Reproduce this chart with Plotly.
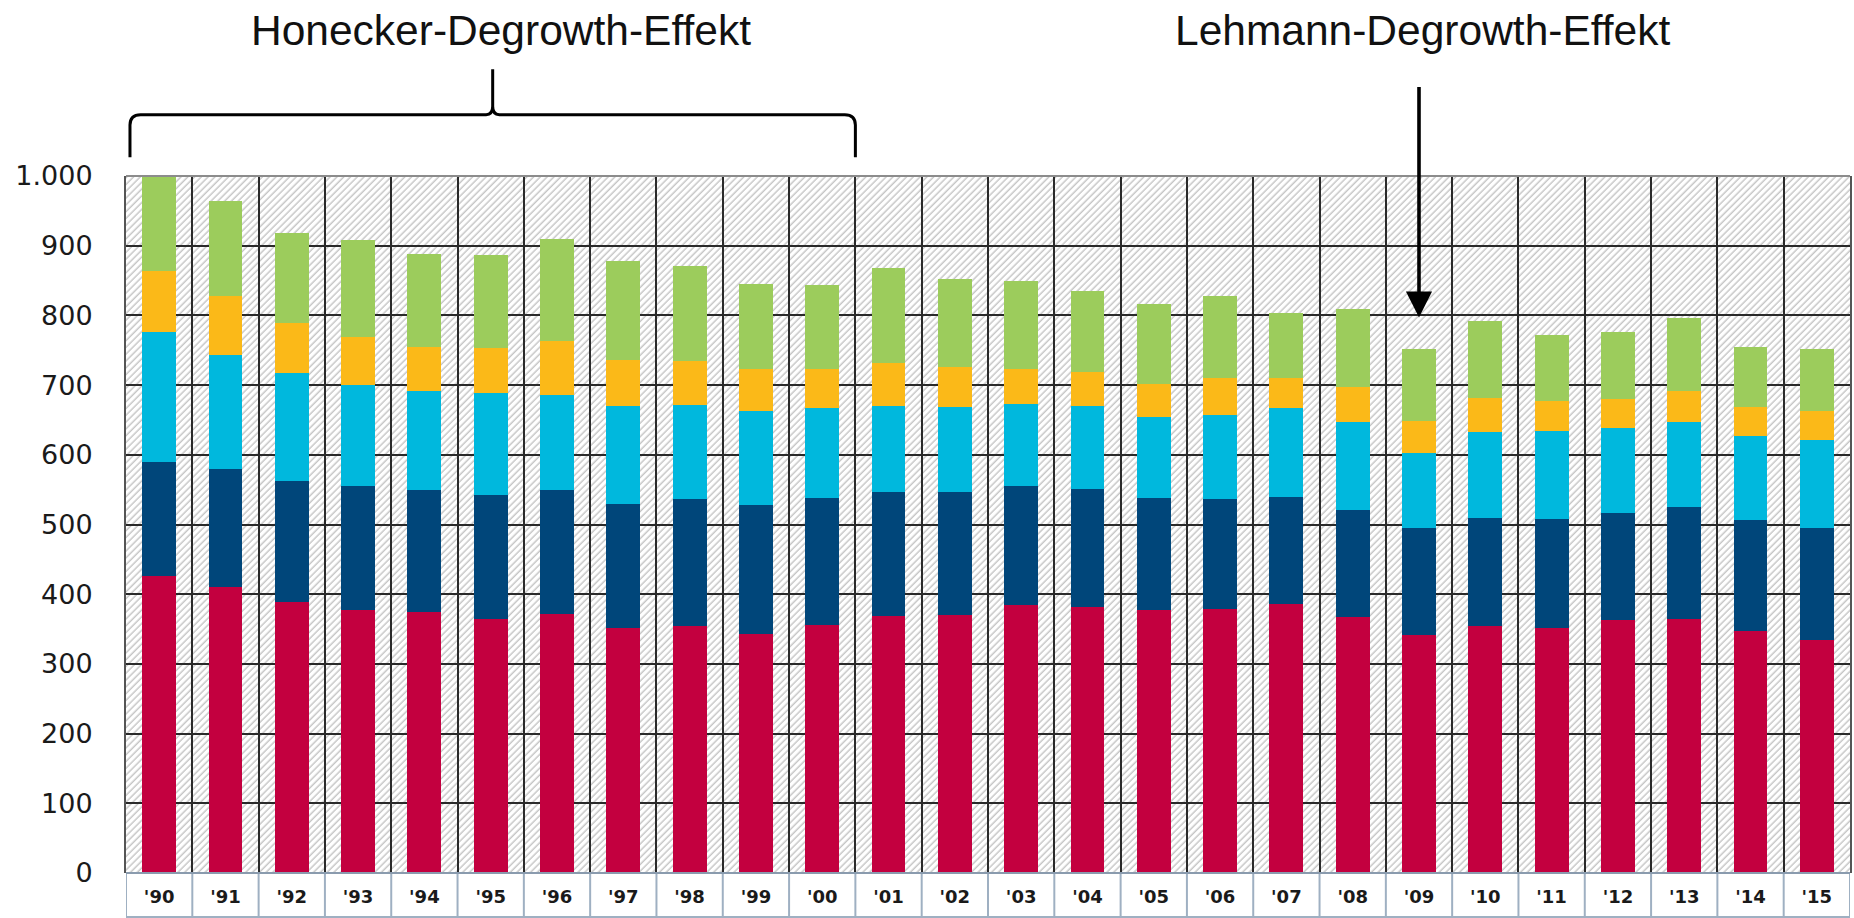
import base64
import plotly.graph_objects as go

# ---------------- data ----------------
years = ["'90", "'91", "'92", "'93", "'94", "'95", "'96", "'97", "'98", "'99",
         "'00", "'01", "'02", "'03", "'04", "'05", "'06", "'07", "'08", "'09",
         "'10", "'11", "'12", "'13", "'14", "'15"]

energie = [426, 411, 389.5, 377.6, 375, 364.8, 372, 351.4, 354, 342.9,
           356.2, 369, 370.5, 383.8, 381.4, 376.7, 378.6, 386.2, 366.7, 341.9,
           354.8, 351.4, 362.4, 364.8, 346.7, 334.8]
verkehr = [163.5, 168, 172.5, 177.4, 174, 178.2, 177.5, 178.1, 182, 185.7,
           181.4, 178.1, 176.2, 171.4, 170, 161.9, 158.1, 152.8, 153.8, 153.8,
           154.2, 157.2, 154.7, 160, 159.5, 160.4]
haushalte = [187.2, 164.8, 154.7, 144.5, 142, 146, 136.5, 140.5, 134.9, 133.8,
             130, 122.9, 121.4, 117.7, 118.1, 115.2, 120, 128.6, 126.6, 107.6,
             124.3, 125.7, 121, 121.9, 121.4, 126.7]
gewerbe = [87.3, 83.8, 72.8, 69.5, 64, 64.8, 76.9, 66, 64.1, 60,
           55.7, 61.4, 58.1, 50.4, 48.6, 47.6, 53.3, 42.4, 49.6, 45.3,
           47.7, 42.8, 41.4, 44.7, 41, 41.4]
industrie = [136, 136.4, 128.5, 139, 133, 132.9, 146.1, 142.6, 136.4, 123.3,
             121, 136.2, 125.7, 125.7, 116.7, 115.3, 117.6, 92.9, 111.9, 103.8,
             110.9, 94.3, 97.2, 104.8, 86.6, 89.1]

series_names = ["Energiewirtschaft", "Verkehr", "Haushalte", "Gewerbe", "Industrie"]
series_values = [energie, verkehr, haushalte, gewerbe, industrie]
series_colors = ["#C3003F", "#00467A", "#00B8DD", "#FBB918", "#9CCC5C"]

y_tickvals = [0, 100, 200, 300, 400, 500, 600, 700, 800, 900, 1000]
y_ticktext = ["0", "100", "200", "300", "400", "500", "600", "700", "800", "900", "1.000"]

label_honecker = "Honecker-Degrowth-Effekt"
label_lehmann = "Lehmann-Degrowth-Effekt"
lehmann_year = "'09"

# ---------------- figure ----------------
W, H = 1854, 918
ML, MR, MT, MB = 126, 2, 176, 45
PW, PH = W - ML - MR, H - MT - MB

xs = list(range(len(years)))
fig = go.Figure()
for name, vals, col in zip(series_names, series_values, series_colors):
    fig.add_trace(go.Bar(x=xs, y=vals, name=name, marker=dict(color=col, line=dict(width=0)),
                         width=0.51, showlegend=False))

# hatched plot background as an SVG image
svg = (f'<svg xmlns="http://www.w3.org/2000/svg" width="{PW}" height="{PH}">'
       '<defs><pattern id="h" width="4.8" height="10" patternUnits="userSpaceOnUse" '
       'patternTransform="rotate(45)"><rect width="4.8" height="10" fill="white"/>'
       '<line x1="1.2" y1="0" x2="1.2" y2="10" stroke="#c6c6c6" stroke-width="1.5"/></pattern></defs>'
       '<rect width="100%" height="100%" fill="url(#h)"/></svg>')
src = "data:image/svg+xml;base64," + base64.b64encode(svg.encode()).decode()
fig.add_layout_image(dict(source=src, xref="paper", yref="paper", x=0, y=1, sizex=1, sizey=1,
                          xanchor="left", yanchor="top", sizing="stretch", layer="below"))

n = len(years)
band = -44 / PH
shapes = []
# label band cells below plot
for i in range(n + 1):
    shapes.append(dict(type="line", xref="x", yref="paper", x0=i - 0.5, x1=i - 0.5, y0=0, y1=band,
                       line=dict(color="#9fb0c2", width=2)))
shapes.append(dict(type="line", xref="x", yref="paper", x0=-0.5, x1=n - 0.5, y0=band, y1=band,
                   line=dict(color="#9fb0c2", width=2)))
shapes.append(dict(type="line", xref="x", yref="paper", x0=-0.5, x1=n - 0.5, y0=0, y1=0,
                   line=dict(color="#8a9bae", width=2)))
shapes.append(dict(type="line", xref="x", yref="paper", x0=-0.5, x1=n - 0.5, y0=1, y1=1,
                   line=dict(color="#8c8c8c", width=2)))

# curly brace over '90 - '00
x0, x1 = -0.44, 10.5
xm = (x0 + x1) / 2
yb, yh, yp = 1.027, 1.088, 1.153
rx, ry = 0.16, 0.015
rx2, ry2 = 0.1, 0.012
path = (f"M{x0},{yb} L{x0},{yh - ry} Q{x0},{yh} {x0 + rx},{yh} "
        f"L{xm - rx2},{yh} Q{xm},{yh} {xm},{yh + ry2} L{xm},{yp} "
        f"M{xm},{yh + ry2} Q{xm},{yh} {xm + rx2},{yh} "
        f"L{x1 - rx},{yh} Q{x1},{yh} {x1},{yh - ry} L{x1},{yb}")
shapes.append(dict(type="path", xref="x", yref="paper", path=path,
                   line=dict(color="black", width=3), fillcolor="rgba(0,0,0,0)"))

annotations = [
    dict(text=label_honecker, xref="x", yref="paper", x=5.16, y=(H - MB - 30) / PH,
         xanchor="center", yanchor="middle", showarrow=False,
         font=dict(family="Liberation Sans, Arial", size=42.5, color="#111")),
    dict(text=label_lehmann, xref="x", yref="paper", x=19.06, y=(H - MB - 30) / PH,
         xanchor="center", yanchor="middle", showarrow=False,
         font=dict(family="Liberation Sans, Arial", size=42.5, color="#111")),
    dict(text="", x=years.index(lehmann_year), y=797, xref="x", yref="y",
         ax=years.index(lehmann_year), ay=1130, axref="x", ayref="y",
         showarrow=True, arrowhead=2, arrowwidth=3.6, arrowsize=1.45, arrowcolor="black",
         standoff=0),
]

fig.update_layout(
    width=W, height=H, autosize=False,
    margin=dict(l=ML, r=MR, t=MT, b=MB, pad=0),
    paper_bgcolor="white", plot_bgcolor="rgba(0,0,0,0)",
    barmode="stack", bargap=0,
    shapes=shapes, annotations=annotations,
    xaxis=dict(range=[-0.5, n - 0.5], tickmode="array", tickvals=xs, ticktext=years,
               showgrid=False, zeroline=False, showline=False, ticks="",
               ticklabelstandoff=11,
               tickfont=dict(family="DejaVu Sans", size=18, color="#1a1a1a", weight="bold")),
    yaxis=dict(range=[0, 1000], tickmode="array", tickvals=y_tickvals, ticktext=y_ticktext,
               showgrid=True, gridcolor="#2a2a2a", gridwidth=2, zeroline=False,
               showline=True, linecolor="#555", linewidth=2, mirror=True, ticks="",
               ticklabelstandoff=26,
               tickfont=dict(family="DejaVu Sans", size=27, color="#1a1a1a")),
)
fig.update_xaxes(minor=dict(tickmode="array", tickvals=[i - 0.5 for i in range(n + 1)],
                            showgrid=True, gridcolor="#2a2a2a", gridwidth=2, ticks=""))

fig.write_html("out.html", config={"displayModeBar": False},
               post_script="document.body.style.margin='0';document.body.style.overflow='hidden';")
